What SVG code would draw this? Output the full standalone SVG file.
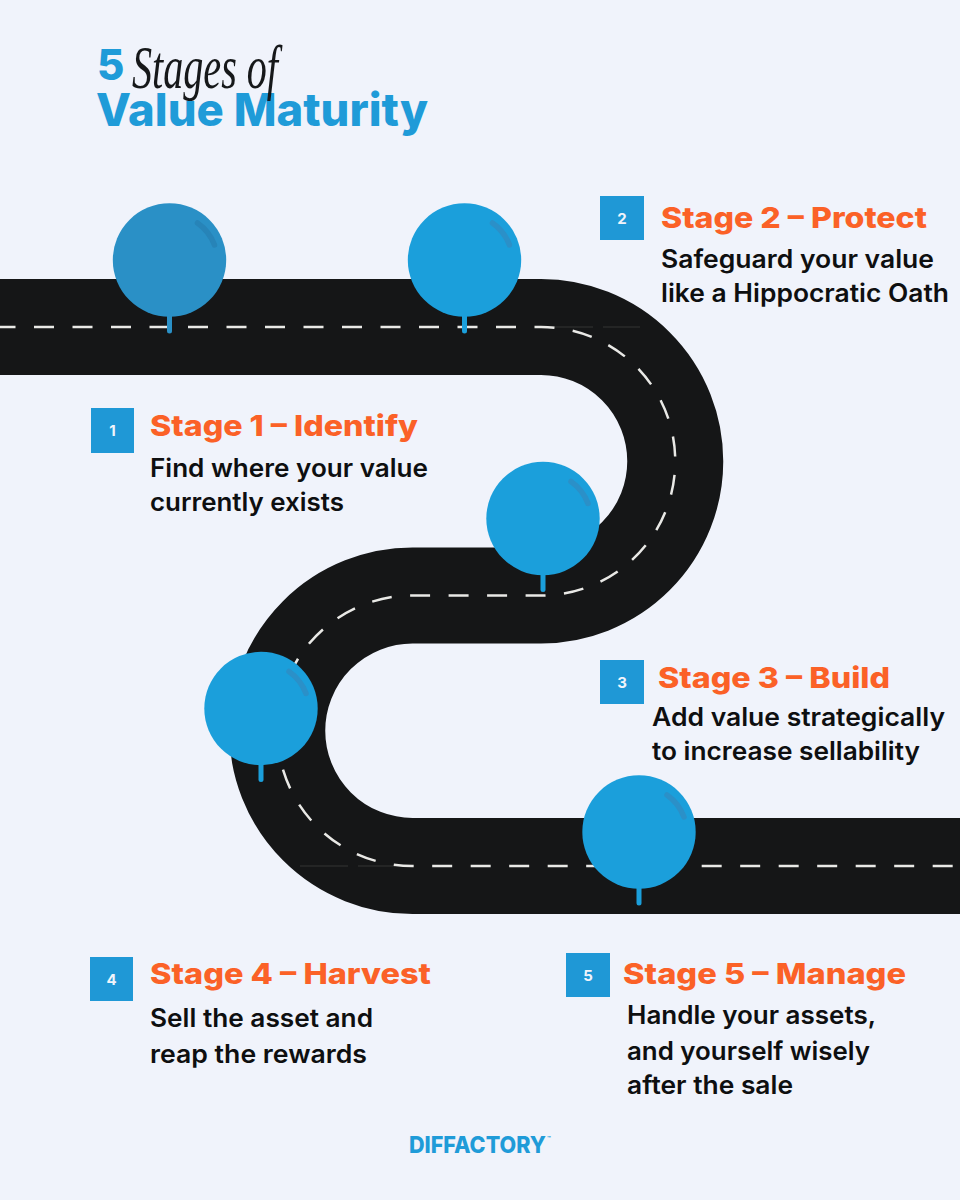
<svg xmlns="http://www.w3.org/2000/svg" xmlns:xlink="http://www.w3.org/1999/xlink" width="960" height="1200" viewBox="0 0 960 1200">
<style>
text{font-family:"Inter","Liberation Sans",sans-serif}
.h{font-size:29px;font-weight:800;fill:#fb6127}
.b{font-size:25px;font-weight:600;fill:#0e0f10}
.n{font-size:15px;font-weight:700;fill:#f0f4fb;text-anchor:middle}
.sq{fill:#1f98d6}
.road{fill:none;stroke:#151617;stroke-width:96}
.dash{fill:none;stroke:#e9e9e6;stroke-width:2.5;stroke-dasharray:20 18.5}
.thin{fill:none;stroke:#3c3d3e;stroke-width:.8;stroke-dasharray:48 10}
.pin{fill:#1b9fdb}
.hl{fill:none;stroke:#2b90c8;stroke-width:5.500;stroke-linecap:round}
</style>
<defs>
<g id="pin">
<rect class="pin" x="-2.5" y="50" width="5" height="23.5" rx="2.5"/>
<circle class="pin" r="56.7"/>
<path class="hl" d="M28-37A47 47 0 0 1 45-15"/>
</g>
</defs>
<rect width="960" height="1200" fill="#f0f3fb"/>
<g id="title">
<text x="97" y="80" font-size="42" font-weight="800" fill="#1f9bd8">5</text>
<text x="96" y="126" font-size="45.500" font-weight="800" fill="#1f9bd8" textLength="332" lengthAdjust="spacingAndGlyphs">Value Maturity</text>
<text x="132" y="88" style="font-family:'Liberation Serif',serif;font-style:italic" font-size="62" fill="#16181a" textLength="146" lengthAdjust="spacingAndGlyphs">Stages of</text>
</g>
<g id="connectors">
<path id="road" class="road" d="M-5 327H541A134.25 134.25 0 0 1 541 595.5H412.5A135.25 135.25 0 0 0 412.5 866H965"/>
<path class="thin" d="M545 327H640M300 866H395"/>
<path class="dash" d="M-4.500 327H541A134.25 134.25 0 0 1 541 595.5H412.5A135.25 135.25 0 0 0 412.5 866H965"/>
</g>
<g id="node-1"><rect class="pin" x="167" y="310" width="5" height="23.500" rx="2.500" style="fill:#2a90c6"/><circle cx="169.500" cy="260" r="56.700" fill="#2a90c6"/><path class="hl" style="stroke:#2784b8" d="M197.500 223A47 47 0 0 1 214.500 245"/>
<rect class="sq" x="91" y="408" width="43" height="45"/><text class="n" x="112.500" y="436">1</text>
<text class="h" x="150" y="436" textLength="268" lengthAdjust="spacingAndGlyphs">Stage 1 – Identify</text>
<text class="b" x="150" y="477" textLength="278" lengthAdjust="spacingAndGlyphs">Find where your value</text>
<text class="b" x="150" y="511" textLength="194" lengthAdjust="spacingAndGlyphs">currently exists</text></g>
<g id="node-2"><use xlink:href="#pin" href="#pin" x="464.500" y="260"/>
<rect class="sq" x="600" y="196" width="44" height="44"/><text class="n" x="622" y="224">2</text>
<text class="h" x="661" y="228" textLength="266" lengthAdjust="spacingAndGlyphs">Stage 2 – Protect</text>
<text class="b" x="661" y="268" textLength="273" lengthAdjust="spacingAndGlyphs">Safeguard your value</text>
<text class="b" x="661" y="302" textLength="288" lengthAdjust="spacingAndGlyphs">like a Hippocratic Oath</text></g>
<g id="node-3"><use xlink:href="#pin" href="#pin" x="543" y="518.500"/>
<rect class="sq" x="600" y="660" width="44" height="44"/><text class="n" x="622" y="688">3</text>
<text class="h" x="658" y="688" textLength="232" lengthAdjust="spacingAndGlyphs">Stage 3 – Build</text>
<text class="b" x="652" y="726" textLength="293" lengthAdjust="spacingAndGlyphs">Add value strategically</text>
<text class="b" x="652" y="760" textLength="268" lengthAdjust="spacingAndGlyphs">to increase sellability</text></g>
<g id="node-4"><use xlink:href="#pin" href="#pin" x="261" y="708.500"/>
<rect class="sq" x="90" y="957" width="43" height="44"/><text class="n" x="111.500" y="985">4</text>
<text class="h" x="150" y="984" textLength="281" lengthAdjust="spacingAndGlyphs">Stage 4 – Harvest</text>
<text class="b" x="150" y="1027" textLength="223" lengthAdjust="spacingAndGlyphs">Sell the asset and</text>
<text class="b" x="150" y="1063" textLength="217" lengthAdjust="spacingAndGlyphs">reap the rewards</text></g>
<g id="node-5"><use xlink:href="#pin" href="#pin" x="639" y="832"/>
<rect class="sq" x="566" y="953" width="44" height="44"/><text class="n" x="588" y="981">5</text>
<text class="h" x="623" y="984" textLength="283" lengthAdjust="spacingAndGlyphs">Stage 5 – Manage</text>
<text class="b" x="627" y="1024" textLength="249" lengthAdjust="spacingAndGlyphs">Handle your assets,</text>
<text class="b" x="627" y="1060" textLength="243" lengthAdjust="spacingAndGlyphs">and yourself wisely</text>
<text class="b" x="627" y="1094" textLength="166" lengthAdjust="spacingAndGlyphs">after the sale</text></g>
<g id="logo">
<text x="409" y="1153" font-size="23" font-weight="800" fill="#1f9bd8" textLength="137" lengthAdjust="spacingAndGlyphs">DIFFACTORY</text>
<text x="547" y="1141" font-size="6" font-weight="700" fill="#1f9bd8">™</text>
</g>
</svg>
